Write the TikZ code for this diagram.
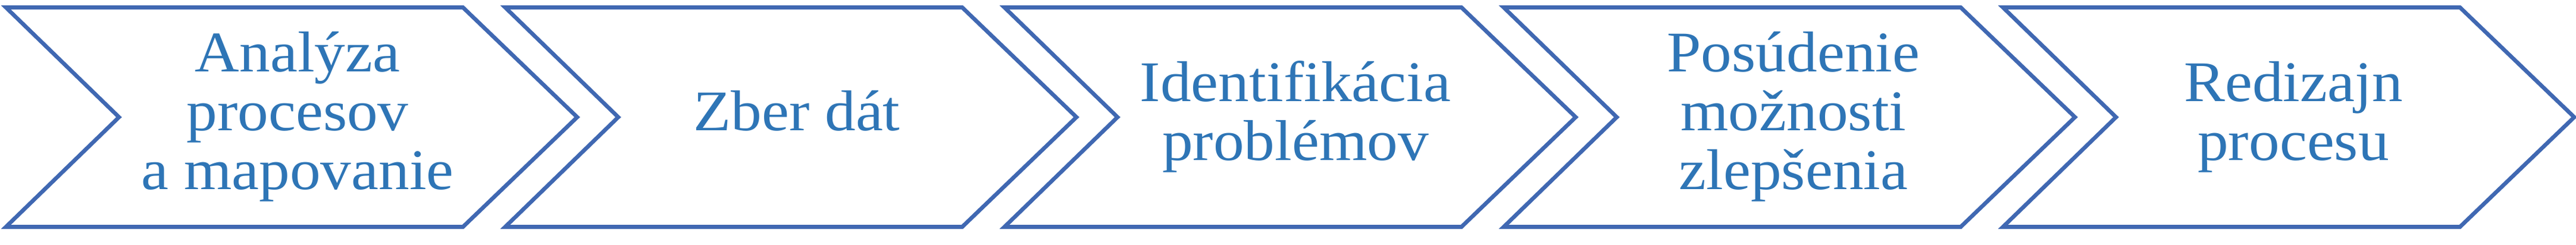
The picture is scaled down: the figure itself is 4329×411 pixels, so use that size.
\documentclass[tikz,border=0pt]{standalone}
\usepackage{fontspec}
\setmainfont[FakeStretch=1.07]{Liberation Serif}
\definecolor{chevblue}{HTML}{4068B2}
\definecolor{textblue}{HTML}{2E75B6}

\begin{document}
\begin{tikzpicture}[x=0.1mm, y=-0.1mm,
    chevron/.style={draw=chevblue, line width=1.9pt, miter limit=10},
    steplabel/.style={text=textblue, align=center, text depth=0.21cm,
        font=\fontsize{27.5}{28.2}\selectfont}]
    \useasboundingbox (0,0) rectangle (4329,411);

    % Chevrons
    \foreach \i in {0,...,4}
        \draw[chevron] ({10+839*\i},12.5) -- ++(768,0) -- ++(192,184.5)
            -- ++(-192,184.5) -- ++(-768,0) -- ++(190,-184.5) -- cycle;

    % Step labels
    \node[steplabel] (analyza) at (500,196.75) {Analýza\\procesov\\a mapovanie};
    \node[steplabel] (zber) at (1339,196.75) {Zber dát};
    \node[steplabel] (identifikacia) at (2177,196.75) {Identifikácia\\problémov};
    \node[steplabel] (posudenie) at (3014,196.75) {Posúdenie\\možnosti\\zlepšenia};
    \node[steplabel] (redizajn) at (3854,196.75) {Redizajn\\procesu};
\end{tikzpicture}
\end{document}
